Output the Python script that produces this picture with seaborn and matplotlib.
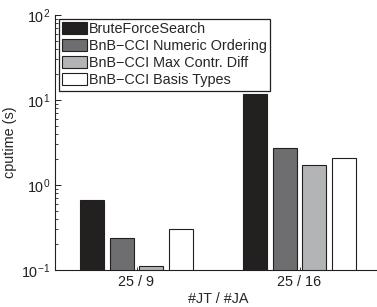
import pandas as pd
import matplotlib
matplotlib.use("Agg")
import matplotlib.pyplot as plt
from matplotlib.ticker import LogLocator, NullFormatter
import seaborn as sns

# data
groups = ["25 / 9", "25 / 16"]
methods = ["BruteForceSearch", "BnB\u2212CCI Numeric Ordering",
           "BnB\u2212CCI Max Contr. Diff", "BnB\u2212CCI Basis Types"]
cputime_g1 = [0.67, 0.24, 0.11, 0.30]
cputime_g2 = [11.8, 2.7, 1.7, 2.1]
colors = ["#231f20", "#6d6e71", "#b3b4b6", "#ffffff"]

rows = []
for g, vals in zip(groups, [cputime_g1, cputime_g2]):
    for m, v in zip(methods, vals):
        rows.append({"group": g, "method": m, "cputime": v})
df = pd.DataFrame(rows)

sns.set_style("ticks")
plt.rcParams["font.family"] = ["Liberation Sans", "DejaVu Sans"]
plt.rcParams["font.size"] = 10.4

fig = plt.figure(figsize=(3.77, 3.07), dpi=100)
ax = fig.add_axes([55 / 377, 37 / 307, 326 / 377, 255 / 307])
ax.set_yscale("log")

sns.barplot(data=df, x="group", y="cputime", hue="method", order=groups,
            hue_order=methods, palette=colors, width=0.736, gap=0.2,
            edgecolor="#231f20", linewidth=0.8, errorbar=None, ax=ax)

ax.set_ylim(0.1, 100)
ax.set_xlim(-0.5, 1.5)
ax.yaxis.set_minor_locator(LogLocator(base=10, subs=range(2, 10)))
ax.yaxis.set_minor_formatter(NullFormatter())
ax.set_xlabel("#JT / #JA", fontsize=10.4, labelpad=2)
ax.set_ylabel("cputime (s)", fontsize=10.4, labelpad=3)

for s in ["top", "right"]:
    ax.spines[s].set_visible(False)
ax.spines["left"].set_color("#231f20")
ax.spines["bottom"].set_color("#231f20")
ax.spines["left"].set_linewidth(0.8)
ax.spines["bottom"].set_linewidth(0.8)
ax.tick_params(axis="both", which="both", direction="in", colors="#231f20",
               labelcolor="#231f20", labelsize=10.4)
ax.tick_params(axis="y", which="major", length=4, width=0.7)
ax.tick_params(axis="y", which="minor", length=2, width=0.6)
ax.tick_params(axis="x", which="major", length=2, width=0.6)

ax.legend(loc="upper left", bbox_to_anchor=(0.0, 1.0), frameon=True,
          fancybox=False, edgecolor="#231f20", framealpha=1, fontsize=10.4,
          handlelength=1.7, handleheight=0.85, handletextpad=0.15,
          labelspacing=0.2, borderpad=0.25, borderaxespad=0.25, title=None)
ax.get_legend().get_frame().set_linewidth(0.9)

fig.savefig("out.png", dpi=100)
